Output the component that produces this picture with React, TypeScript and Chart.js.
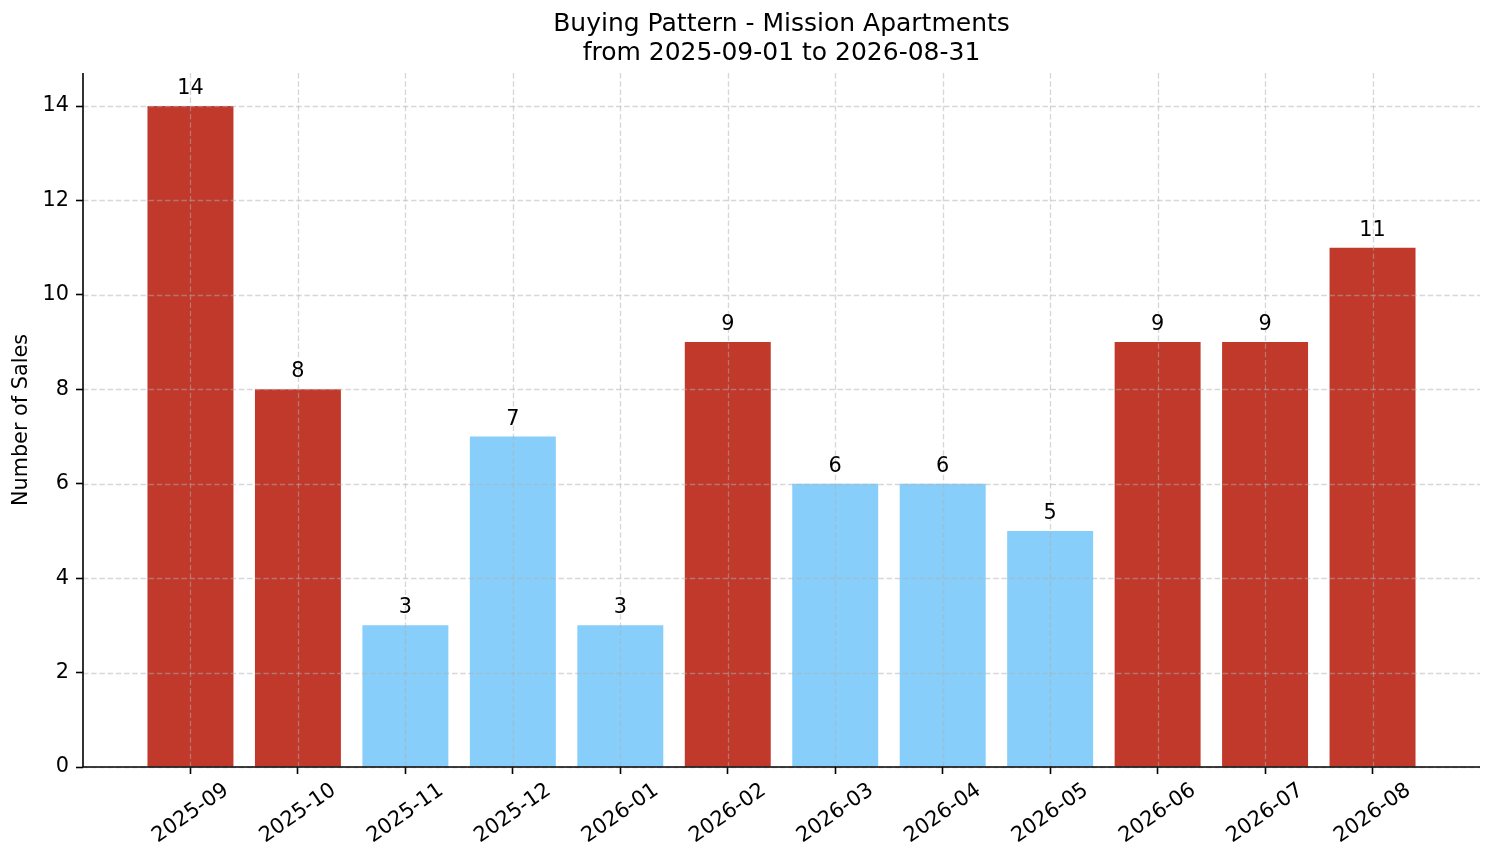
import { useEffect, useRef } from "react"
import { Chart, registerables } from "chart.js"

Chart.register(...registerables)

const months = [
  "2025-09", "2025-10", "2025-11", "2025-12", "2026-01", "2026-02",
  "2026-03", "2026-04", "2026-05", "2026-06", "2026-07", "2026-08",
]
const sales = [14, 8, 3, 7, 3, 9, 6, 6, 5, 9, 9, 11]
const yTicks = [0, 2, 4, 6, 8, 10, 12, 14]

const FONT = "'DejaVu Sans', sans-serif"
const HIGH = "#c0392b"
const LOW = "#87cefa"

// grid on top of the bars, then the two spines and the value labels
const overlayPlugin = {
  id: "overlay",
  afterDatasetsDraw(chart: any) {
    const { ctx, chartArea: a, scales } = chart
    ctx.save()
    ctx.lineWidth = 1.3
    ctx.strokeStyle = "rgba(176,176,176,0.5)"
    ctx.setLineDash([5.5, 2.7])
    scales.x.ticks.forEach((_: any, i: number) => {
      const px = Math.round(scales.x.getPixelForTick(i)) + 0.5
      ctx.beginPath()
      ctx.moveTo(px, a.top)
      ctx.lineTo(px, a.bottom)
      ctx.stroke()
    })
    scales.y.ticks.forEach((_: any, i: number) => {
      const py = Math.round(scales.y.getPixelForTick(i)) + 0.5
      ctx.beginPath()
      ctx.moveTo(a.left, py)
      ctx.lineTo(a.right, py)
      ctx.stroke()
    })
    ctx.setLineDash([])
    ctx.strokeStyle = "#000"
    ctx.lineWidth = 1.6
    ctx.beginPath()
    ctx.moveTo(a.left, a.top)
    ctx.lineTo(a.left, a.bottom)
    ctx.lineTo(a.right, a.bottom)
    ctx.stroke()

    const meta = chart.getDatasetMeta(0)
    ctx.fillStyle = "#000"
    ctx.font = `20.8px ${FONT}`
    ctx.textAlign = "center"
    ctx.textBaseline = "alphabetic"
    meta.data.forEach((bar: any, i: number) => {
      ctx.fillText(String(sales[i]), bar.x, bar.y - 12)
    })
    ctx.restore()
  },
}

export default function App() {
  const chartRef = useRef<HTMLCanvasElement>(null)
  const chartInstance = useRef<Chart | null>(null)

  useEffect(() => {
    if (!chartRef.current) return
    const ctx = chartRef.current.getContext("2d")
    if (!ctx) return
    if (chartInstance.current) chartInstance.current.destroy()

    const mean = sales.reduce((s, v) => s + v, 0) / sales.length

    chartInstance.current = new Chart(ctx, {
      type: "bar",
      data: {
        datasets: [
          {
            label: "Sales",
            data: sales.map((v, i) => ({ x: i, y: v })),
            backgroundColor: sales.map((v) => (v > mean ? HIGH : LOW)),
            borderWidth: 0,
            categoryPercentage: 1,
            barPercentage: 0.8,
          },
        ],
      },
      options: {
        animation: false,
        responsive: true,
        maintainAspectRatio: false,
        layout: { padding: { left: 0, right: 14, top: 0, bottom: 0 } },
        plugins: {
          legend: { display: false },
          tooltip: { enabled: false },
          title: {
            display: true,
            fullSize: false,
            text: ["Buying Pattern - Mission Apartments", "from 2025-09-01 to 2026-08-31"],
            color: "#000",
            font: { family: FONT, size: 25, weight: "normal", lineHeight: 1.16 },
            padding: { top: 9.5, bottom: 5.5 },
          },
        },
        scales: {
          x: {
            type: "linear",
            min: -1,
            max: 12,
            offset: false,
            afterBuildTicks: (axis: any) => {
              axis.ticks = months.map((_, i) => ({ value: i }))
            },
            afterFit: (axis: any) => {
              axis.height = 96
            },
            ticks: {
              autoSkip: false,
              minRotation: 35,
              maxRotation: 35,
              labelOffset: 36,
              padding: 4,
              color: "#000",
              font: { family: FONT, size: 21 },
              callback: (v: any) => months[Math.round(Number(v))],
            },
            grid: {
              display: true,
              offset: false,
              drawOnChartArea: false,
              drawTicks: true,
              tickLength: 7,
              tickColor: "#000",
              tickWidth: 1.6,
            },
            border: { display: false },
          },
          y: {
            type: "linear",
            min: 0,
            max: 14.7,
            afterBuildTicks: (axis: any) => {
              axis.ticks = yTicks.map((v) => ({ value: v }))
            },
            afterFit: (axis: any) => {
              axis.width = 83
            },
            ticks: {
              padding: 7,
              color: "#000",
              font: { family: FONT, size: 20.8 },
            },
            grid: {
              display: true,
              drawOnChartArea: false,
              drawTicks: true,
              tickLength: 7,
              tickColor: "#000",
              tickWidth: 1.6,
            },
            border: { display: false },
            title: {
              display: true,
              text: "Number of Sales",
              color: "#000",
              font: { family: FONT, size: 20.8, lineHeight: 1.2 },
              padding: { top: 9, bottom: 0 },
            },
          },
        },
      },
      plugins: [overlayPlugin],
    })

    return () => {
      if (chartInstance.current) {
        chartInstance.current.destroy()
        chartInstance.current = null
      }
    }
  }, [])

  return (
    <div style={{ width: "1494px", height: "863px", position: "relative" }}>
      <style>{"body{margin:0}"}</style>
      <canvas ref={chartRef} />
    </div>
  )
}
